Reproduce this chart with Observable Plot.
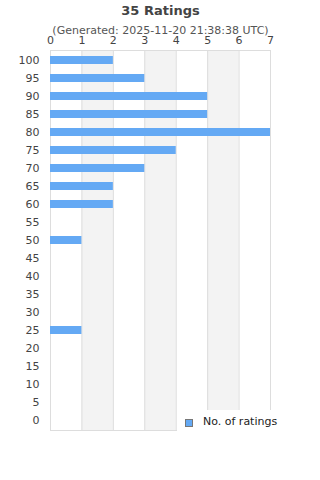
<!DOCTYPE html>
<html>
<head>
<meta charset="utf-8">
<script src="https://cdn.jsdelivr.net/npm/d3@7"></script>
<script src="https://cdn.jsdelivr.net/npm/@observablehq/plot@0.6"></script>
<style>
  html, body { margin: 0; padding: 0; background: #fff; }
  #wrap { position: relative; width: 320px; height: 480px; font-family: "DejaVu Sans", sans-serif; }
  #legend { position: absolute; left: 177px; top: 410px; width: 143px; height: 30px; background: #fff; }
  #legend .sw { position: absolute; left: 8px; top: 9px; width: 6px; height: 6px; background: #64a9f4; border: 1px solid #777; }
  #legend .lb { position: absolute; left: 26px; top: 5px; font-size: 11px; color: #222; line-height: 14px; }
</style>
</head>
<body>
<div id="wrap"></div>
<script>
const title = "35 Ratings";
const subtitle = "(Generated: 2025-11-20 21:38:38 UTC)";
const ratings = ["100","95","90","85","80","75","70","65","60","55","50","45","40","35","30","25","20","15","10","5","0"];
const counts  = [2, 3, 5, 5, 7, 4, 3, 2, 2, 0, 1, 0, 0, 0, 0, 1, 0, 0, 0, 0, 0];
const xTicks = [0, 1, 2, 3, 4, 5, 6, 7];
const bandStarts = [1, 3, 5];
const seriesName = "No. of ratings";

const data = ratings.map((r, i) => ({rating: r, count: counts[i]}));

const chart = Plot.plot({
  width: 320,
  height: 480,
  marginTop: 50,
  marginBottom: 50,
  marginLeft: 50,
  marginRight: 50,
  style: {fontFamily: "DejaVu Sans, sans-serif", fontSize: "11px", color: "#444", background: "#fff"},
  x: {domain: [0, 7], ticks: xTicks, axis: "top", tickSize: 0, tickPadding: 7, label: null, tickFormat: d3.format("d")},
  y: {domain: ratings, paddingInner: 0.56, paddingOuter: 0.28, tickSize: 0, tickPadding: 11, label: null},
  marks: [
    Plot.rect(bandStarts, {x1: d => d, x2: d => d + 1, fill: "#f3f3f3"}),
    Plot.ruleX(xTicks, {stroke: "#dddddd", strokeWidth: 1}),
    Plot.frame({stroke: "#dddddd"}),
    Plot.barX(data, {x: "count", y: "rating", fill: "#64a9f4"}),
    Plot.text([title], {frameAnchor: "top", dy: -45, fontSize: 13, fontWeight: "bold", fill: "#444"}),
    Plot.text([subtitle], {frameAnchor: "top", dy: -24, fontSize: 11, fill: "#555"})
  ]
});

const wrap = document.getElementById("wrap");
wrap.appendChild(chart);
const legend = document.createElement("div");
legend.id = "legend";
legend.innerHTML = '<div class="sw"></div><div class="lb"></div>';
legend.querySelector(".lb").textContent = seriesName;
wrap.appendChild(legend);
</script>
</body>
</html>
